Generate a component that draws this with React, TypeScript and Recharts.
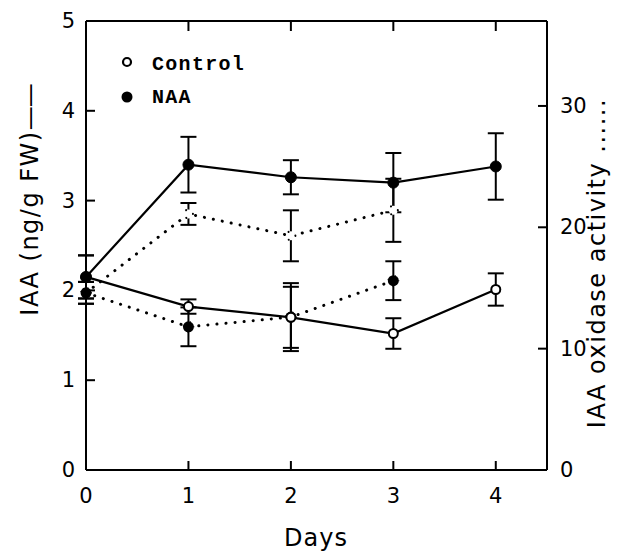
import { ComposedChart, Line, XAxis, YAxis, ErrorBar, Label } from 'recharts';

// Days after treatment
const days = [0, 1, 2, 3, 4];

// IAA content (ng/g FW), left axis, solid lines
const controlIAA = [2.15, 1.82, 1.7, 1.52, 2.01];
const controlIAAErr = [0.24, 0.08, 0.34, 0.17, 0.18];
const naaIAA = [2.15, 3.4, 3.26, 3.2, 3.38];
const naaIAAErr = [0.24, 0.31, 0.19, 0.33, 0.37];

// IAA oxidase activity, right axis, dotted lines
const controlOx = [14.6, 21.1, 19.3, 21.4, null];
const controlOxErr = [0.9, 0.9, 2.1, 2.6, null];
const naaOx = [14.6, 11.8, 12.6, 15.6, null];
const naaOxErr = [0.9, 1.6, 2.8, 1.6, null];

const dayTicks = [0, 1, 2, 3, 4];
const iaaTicks = [0, 1, 2, 3, 4, 5];
const oxTicks = [0, 10, 20, 30];

const data = days.map((d, i) => ({
  day: d,
  controlIAA: controlIAA[i],
  controlIAAErr: controlIAAErr[i],
  naaIAA: naaIAA[i],
  naaIAAErr: naaIAAErr[i],
  controlOx: controlOx[i],
  controlOxErr: controlOxErr[i],
  naaOx: naaOx[i],
  naaOxErr: naaOxErr[i],
}));

const FONT = '"DejaVu Sans", sans-serif';
const MONO = '"Liberation Mono", monospace';
const INK = '#000';

const LeftTick = ({ x, y, payload }: any) => (
  <g>
    <line x1={x} x2={x + 9} y1={y} y2={y} stroke={INK} strokeWidth={2} />
    <text x={x - 11} y={y} dy={7} textAnchor="end" fontFamily={FONT} fontSize={21} fill={INK}>
      {payload.value}
    </text>
  </g>
);

const RightTick = ({ x, y, payload }: any) => (
  <g>
    <line x1={x} x2={x - 9} y1={y} y2={y} stroke={INK} strokeWidth={2} />
    <text x={x + 13} y={y} dy={7} textAnchor="start" fontFamily={FONT} fontSize={21} fill={INK}>
      {payload.value}
    </text>
  </g>
);

const BottomTick = ({ x, y, payload }: any) => (
  <g>
    <line x1={x} x2={x} y1={y} y2={y - 9} stroke={INK} strokeWidth={2} />
    <text x={x} y={y + 33} textAnchor="middle" fontFamily={FONT} fontSize={21} fill={INK}>
      {payload.value}
    </text>
  </g>
);

const TopTick = ({ x, y }: any) => (
  <line x1={x} x2={x} y1={y} y2={y + 10} stroke={INK} strokeWidth={2} />
);

// axis titles placed beside the frame
const LeftTitle = () => (
  <text
    x={38}
    y={200}
    transform="rotate(-90 38 200)"
    textAnchor="middle"
    fontFamily={FONT}
    fontSize={24}
    fill={INK}
  >
    <tspan letterSpacing={1.5}>IAA (ng/g FW)</tspan>
    <tspan letterSpacing={-1}>——</tspan>
  </text>
);

const RightTitle = () => (
  <text
    x={605}
    y={263}
    transform="rotate(-90 605 263)"
    textAnchor="middle"
    fontFamily={FONT}
    fontSize={24}
    letterSpacing={1.5}
    fill={INK}
  >
    IAA oxidase activity ......
  </text>
);

const DaysTitle = () => (
  <text x={316} y={546} textAnchor="middle" fontFamily={FONT} fontSize={24} letterSpacing={1} fill={INK}>
    Days
  </text>
);

const LegendBox = () => (
  <svg width={200} height={70} style={{ position: 'absolute', left: 118, top: 52 }}>
    <circle cx={9} cy={10} r={4} fill="#fff" stroke={INK} strokeWidth={2.2} />
    <text x={34} y={18} fontFamily={MONO} fontWeight="bold" fontSize={20} letterSpacing={1.3} fill={INK}>
      Control
    </text>
    <circle cx={9} cy={45} r={5.5} fill={INK} />
    <text x={34} y={51} fontFamily={MONO} fontWeight="bold" fontSize={20} letterSpacing={1.3} fill={INK}>
      NAA
    </text>
  </svg>
);

const openDot = { r: 4.5, fill: '#fff', stroke: INK, strokeWidth: 2 };
const filledDot = { r: 5.5, fill: INK, stroke: INK, strokeWidth: 1 };

export default function App() {
  return (
    <div style={{ position: 'absolute', left: 0, top: 0, width: 621, height: 552, background: '#fff' }}>
      <ComposedChart width={621} height={552} data={data} margin={{ top: 20, right: 0, bottom: 0, left: 0 }}>
        <XAxis
          xAxisId="bottom"
          dataKey="day"
          type="number"
          domain={[0, 4.5]}
          ticks={dayTicks}
          height={82}
          tickSize={0}
          tickMargin={0}
          tickLine={false}
          axisLine={{ stroke: INK, strokeWidth: 2 }}
          tick={<BottomTick />}
        >
          <Label content={<DaysTitle />} />
        </XAxis>
        <XAxis
          xAxisId="top"
          dataKey="day"
          type="number"
          orientation="top"
          domain={[0, 4.5]}
          ticks={[1, 2, 3, 4]}
          height={1}
          tickSize={0}
          tickMargin={0}
          tickLine={false}
          axisLine={{ stroke: INK, strokeWidth: 2 }}
          tick={<TopTick />}
        />
        <YAxis
          yAxisId="iaa"
          domain={[0, 5]}
          ticks={iaaTicks}
          width={86}
          tickSize={0}
          tickMargin={0}
          tickLine={false}
          axisLine={{ stroke: INK, strokeWidth: 2 }}
          tick={<LeftTick />}
        >
          <Label content={<LeftTitle />} />
        </YAxis>
        <YAxis
          yAxisId="ox"
          orientation="right"
          domain={[0, 37]}
          ticks={oxTicks}
          width={74}
          tickSize={0}
          tickMargin={0}
          tickLine={false}
          axisLine={{ stroke: INK, strokeWidth: 2 }}
          tick={<RightTick />}
        >
          <Label content={<RightTitle />} />
        </YAxis>
        <Line
          xAxisId="bottom"
          yAxisId="ox"
          dataKey="controlOx"
          name="Control oxidase"
          stroke={INK}
          strokeWidth={3}
          strokeDasharray="0.1 9"
          strokeLinecap="round"
          dot={openDot}
          isAnimationActive={false}
        >
          <ErrorBar dataKey="controlOxErr" width={8} stroke={INK} strokeWidth={2} direction="y" />
        </Line>
        <Line
          xAxisId="bottom"
          yAxisId="ox"
          dataKey="naaOx"
          name="NAA oxidase"
          stroke={INK}
          strokeWidth={3}
          strokeDasharray="0.1 9"
          strokeLinecap="round"
          dot={filledDot}
          isAnimationActive={false}
        >
          <ErrorBar dataKey="naaOxErr" width={8} stroke={INK} strokeWidth={2} direction="y" />
        </Line>
        <Line
          xAxisId="bottom"
          yAxisId="iaa"
          dataKey="controlIAA"
          name="Control IAA"
          stroke={INK}
          strokeWidth={2.2}
          dot={openDot}
          isAnimationActive={false}
        >
          <ErrorBar dataKey="controlIAAErr" width={8} stroke={INK} strokeWidth={2} direction="y" />
        </Line>
        <Line
          xAxisId="bottom"
          yAxisId="iaa"
          dataKey="naaIAA"
          name="NAA IAA"
          stroke={INK}
          strokeWidth={2.2}
          dot={filledDot}
          isAnimationActive={false}
        >
          <ErrorBar dataKey="naaIAAErr" width={8} stroke={INK} strokeWidth={2} direction="y" />
        </Line>
      </ComposedChart>
      <LegendBox />
    </div>
  );
}
